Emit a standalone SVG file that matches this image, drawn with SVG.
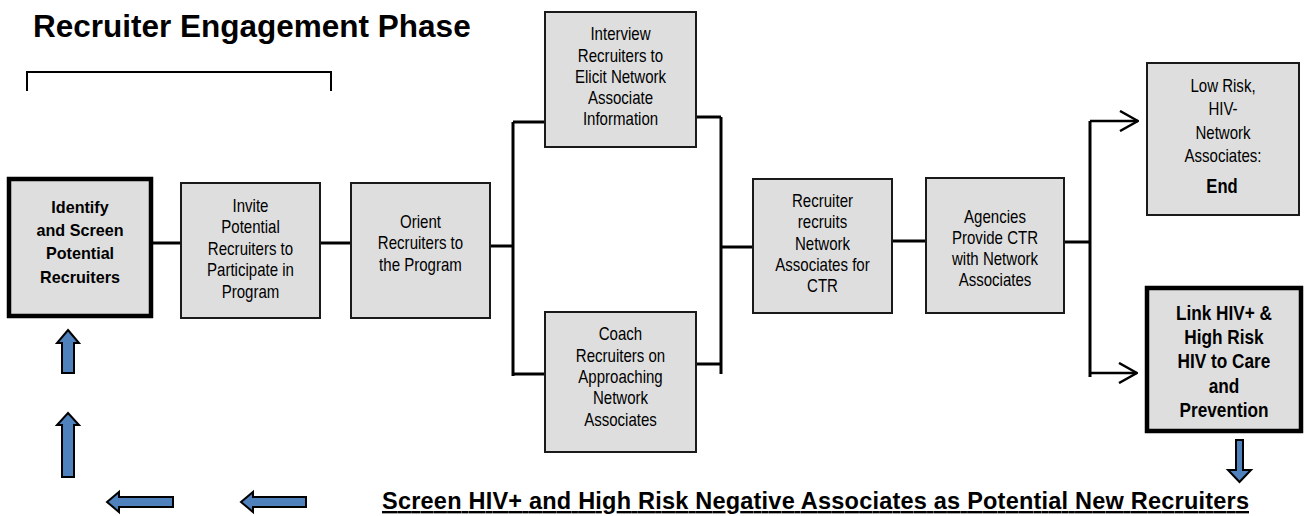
<svg xmlns="http://www.w3.org/2000/svg" width="1304" height="516" viewBox="0 0 1304 516">
<style>
.box{fill:#dedede;stroke:#1a1a1a;stroke-width:2}
.thick{fill:#dedede;stroke:#000;stroke-width:4.5}
.t{font-family:"Liberation Sans",Arial,sans-serif;font-size:17.5px;fill:#000;text-anchor:middle}
.tb{font-family:"Liberation Sans",Arial,sans-serif;font-size:17px;font-weight:bold;fill:#000;text-anchor:middle}
.tnb{font-family:"Liberation Sans",Arial,sans-serif;font-size:21px;font-weight:bold;fill:#000;text-anchor:middle}
.conn{fill:none;stroke:#000;stroke-width:3}
.blue{fill:#4f81bd;stroke:#000;stroke-width:2;stroke-linejoin:miter}
</style>
<defs>
<marker id="chev" markerUnits="userSpaceOnUse" viewBox="0 0 20 22" refX="19" refY="11" markerWidth="20" markerHeight="22" orient="auto">
<path d="M1,1 L19,11 L1,21" fill="none" stroke="#000" stroke-width="2.5"/>
</marker>
</defs>
<text x="33" y="37" font-family="Liberation Sans,Arial,sans-serif" font-size="31.5" font-weight="bold" fill="#000">Recruiter Engagement Phase</text>
<path d="M27,91 V72 H331 V91" fill="none" stroke="#000" stroke-width="2"/>
<g id="connectors">
<line class="conn" x1="152" y1="243" x2="181" y2="243"/>
<line class="conn" x1="320" y1="243" x2="351" y2="243"/>
<line class="conn" x1="490" y1="246" x2="513" y2="246"/>
<line class="conn" x1="513" y1="122" x2="513" y2="376"/>
<line class="conn" x1="513" y1="122" x2="545" y2="122"/>
<line class="conn" x1="513" y1="374" x2="545" y2="374"/>
<line class="conn" x1="696" y1="117" x2="721" y2="117"/>
<line class="conn" x1="696" y1="364" x2="721" y2="364"/>
<line class="conn" x1="721" y1="117" x2="721" y2="374"/>
<line class="conn" x1="721" y1="247" x2="753" y2="247"/>
<line class="conn" x1="892" y1="241" x2="926" y2="241"/>
<line class="conn" x1="1064" y1="242" x2="1090" y2="242"/>
<line class="conn" x1="1090" y1="121" x2="1090" y2="377"/>
<path d="M1090,121 H1138" fill="none" stroke="#000" stroke-width="2.5" marker-end="url(#chev)"/>
<path d="M1090,373 H1137" fill="none" stroke="#000" stroke-width="2.5" marker-end="url(#chev)"/>
<path class="blue" d="M68,330 L79,343 L74,343 L74,373 L62,373 L62,343 L57,343 Z"/>
<path class="blue" d="M68,413 L79,425 L74,425 L74,477 L62,477 L62,425 L57,425 Z"/>
<path class="blue" d="M107,502 L119,492 L119,497 L173,497 L173,507 L119,507 L119,512 Z"/>
<path class="blue" d="M241,502 L253,492 L253,497 L306,497 L306,507 L253,507 L253,512 Z"/>
<path class="blue" d="M1239.5,482 L1251,470 L1243,470 L1243,440 L1236,440 L1236,470 L1228,470 Z"/>
</g>
<g id="identify">
<rect class="thick" x="9" y="179" width="142" height="137"/>
<text class="tb" transform="translate(80,0) scale(0.95,1)"><tspan x="0" y="213">Identify</tspan><tspan x="0" y="236">and Screen</tspan><tspan x="0" y="259">Potential</tspan><tspan x="0" y="283">Recruiters</tspan></text>
</g>
<g id="invite">
<rect class="box" x="181" y="183" width="139" height="135"/>
<text class="t" transform="translate(250.5,0) scale(0.86,1)"><tspan x="0" y="212">Invite</tspan><tspan x="0" y="233.5">Potential</tspan><tspan x="0" y="255">Recruiters to</tspan><tspan x="0" y="276.5">Participate in</tspan><tspan x="0" y="298">Program</tspan></text>
</g>
<g id="orient">
<rect class="box" x="351" y="183" width="139" height="135"/>
<text class="t" transform="translate(420.5,0) scale(0.86,1)"><tspan x="0" y="228">Orient</tspan><tspan x="0" y="249">Recruiters to</tspan><tspan x="0" y="271">the Program</tspan></text>
</g>
<g id="interview">
<rect class="box" x="545" y="12" width="151" height="135"/>
<text class="t" transform="translate(620.5,0) scale(0.86,1)"><tspan x="0" y="40">Interview</tspan><tspan x="0" y="62">Recruiters to</tspan><tspan x="0" y="83">Elicit Network</tspan><tspan x="0" y="104">Associate</tspan><tspan x="0" y="125">Information</tspan></text>
</g>
<g id="coach">
<rect class="box" x="545" y="312" width="151" height="140"/>
<text class="t" transform="translate(620.5,0) scale(0.86,1)"><tspan x="0" y="340">Coach</tspan><tspan x="0" y="362">Recruiters on</tspan><tspan x="0" y="383">Approaching</tspan><tspan x="0" y="404">Network</tspan><tspan x="0" y="426">Associates</tspan></text>
</g>
<g id="recruits">
<rect class="box" x="753" y="179" width="139" height="134"/>
<text class="t" transform="translate(822.5,0) scale(0.86,1)"><tspan x="0" y="207">Recruiter</tspan><tspan x="0" y="228">recruits</tspan><tspan x="0" y="250">Network</tspan><tspan x="0" y="271">Associates for</tspan><tspan x="0" y="292">CTR</tspan></text>
</g>
<g id="agencies">
<rect class="box" x="926" y="178" width="138" height="135"/>
<text class="t" transform="translate(995,0) scale(0.86,1)"><tspan x="0" y="223">Agencies</tspan><tspan x="0" y="244">Provide CTR</tspan><tspan x="0" y="265">with Network</tspan><tspan x="0" y="286">Associates</tspan></text>
</g>
<g id="lowrisk">
<rect class="box" x="1147" y="63" width="152" height="152"/>
<text class="t" transform="translate(1223,0) scale(0.86,1)"><tspan x="0" y="92">Low Risk,</tspan><tspan x="0" y="115">HIV-</tspan><tspan x="0" y="139">Network</tspan><tspan x="0" y="162">Associates:</tspan></text>
<text class="tnb" transform="translate(1222,0) scale(0.79,1)" x="0" y="193" font-size="25">End</text>
</g>
<g id="link">
<rect class="thick" x="1147" y="288" width="154" height="143"/>
<text class="tnb" transform="translate(1224,0) scale(0.82,1)"><tspan x="0" y="320">Link HIV+ &amp;</tspan><tspan x="0" y="344">High Risk</tspan><tspan x="0" y="368">HIV to Care</tspan><tspan x="0" y="393">and</tspan><tspan x="0" y="417">Prevention</tspan></text>
</g>
<g id="screen">
<text x="382" y="509" font-family="Liberation Sans,Arial,sans-serif" font-size="23.5" font-weight="bold" fill="#000" text-decoration="underline" textLength="867" lengthAdjust="spacing">Screen HIV+ and High Risk Negative Associates as Potential New Recruiters</text>
</g>
</svg>
